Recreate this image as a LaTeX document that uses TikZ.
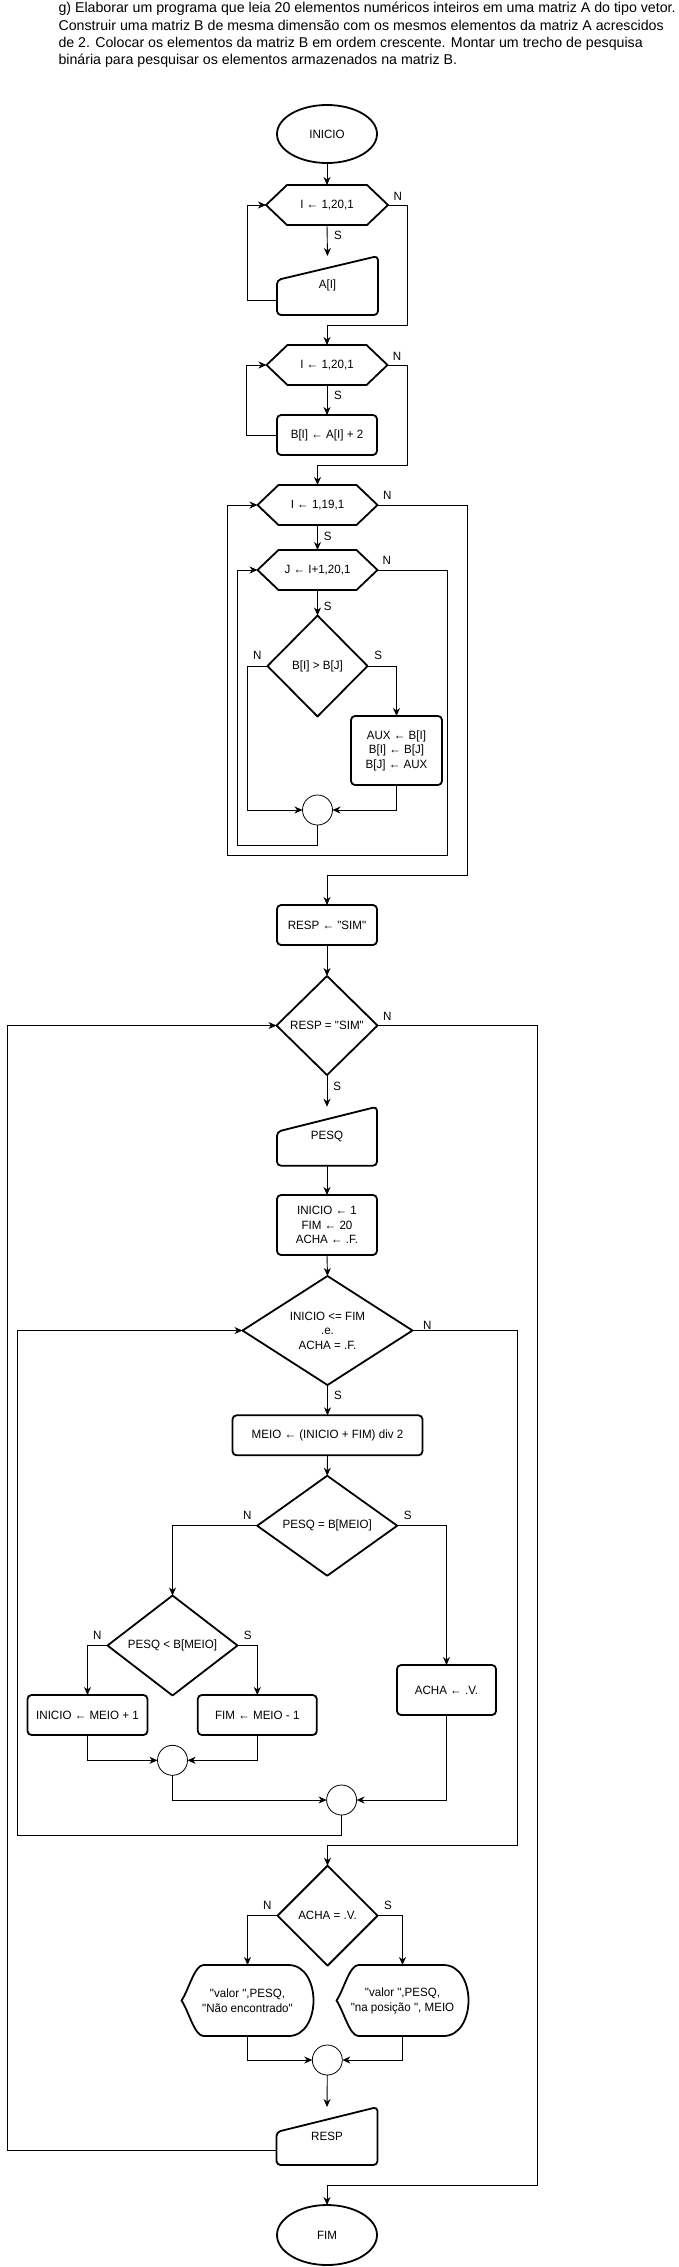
\documentclass[tikz,border=0pt]{standalone}
\usepackage{fontspec}
\setmainfont{Liberation Sans}
\newfontfamily\nfont{Liberation Sans}[FakeStretch=0.965]
\usetikzlibrary{shapes.geometric,arrows.meta}
\tikzset{
  shp/.style={line width=1.8pt, line join=round},
  tnode/.style={inner sep=0pt, outer sep=0pt, align=center, font=\nfont\fontsize{12}{14.5}\selectfont},
  box/.style={tnode, draw, shp, rounded corners=4pt},
  term/.style={tnode, ellipse, draw, shp},
  junc/.style={circle, draw, line width=0.8pt, minimum size=30pt, inner sep=0pt, outer sep=0pt},
  conn/.style={line width=0.9pt, -{Stealth[length=8pt,width=7pt,inset=2.5pt]}},
  lab/.style={font=\nfont\fontsize{12}{14}\selectfont, inner sep=0pt},
  ttl/.style={font=\fontsize{14.2}{17}\selectfont, inner sep=0pt, anchor=base west},
}
\newcommand\hexa[1]{\draw[shp] (#1.west) -- ([xshift=21pt]#1.north west) -- ([xshift=-21pt]#1.north east) -- (#1.east) -- ([xshift=-21pt]#1.south east) -- ([xshift=21pt]#1.south west) -- cycle;}
\newcommand\dia[1]{\draw[shp] (#1.west) -- (#1.north) -- (#1.east) -- (#1.south) -- cycle;}
\newcommand\manin[2]{\draw[shp, rounded corners=4pt] (#1.south west) -- ([yshift=-#2]#1.north west) -- (#1.north east) -- (#1.south east) -- cycle;}
\newcommand\disp[1]{\draw[shp] (#1.west) .. controls ([xshift=7pt,yshift=10pt]#1.west) and ([xshift=13pt]#1.north west) .. ([xshift=22pt]#1.north west) -- ([xshift=-25pt]#1.north east) to[out=0,in=90] (#1.east) to[out=-90,in=0] ([xshift=-25pt]#1.south east) -- ([xshift=22pt]#1.south west) .. controls ([xshift=13pt]#1.south west) and ([xshift=7pt,yshift=-10pt]#1.west) .. (#1.west) -- cycle;}
\begin{document}
\begin{tikzpicture}[x=1pt,y=-1pt]
\fill[white] (0,0) rectangle (678,2267);
\useasboundingbox (0,0) rectangle (678,2267);
% title
\node[ttl] (t1) at (58.3,13.0) {g) Elaborar um programa que leia 20 elementos numéricos inteiros em uma matriz A do tipo vetor.};
\node[ttl] (t2) at (58.3,30.2) {Construir uma matriz B de mesma dimensão com os mesmos elementos da matriz A acrescidos};
\node[ttl] (t3) at (58.3,47.4) {de 2. Colocar os elementos da matriz B em ordem crescente. Montar um trecho de pesquisa};
\node[ttl] (t4) at (58.3,64.6) {binária para pesquisar os elementos armazenados na matriz B.};
% nodes
\node[term, minimum width=100pt, minimum height=58pt] (ini) at (327,134) {INICIO};
\node[tnode, minimum width=122pt, minimum height=40pt] (h1) at (327,205) {I ← 1,20,1}; \hexa{h1}
\node[tnode, minimum width=101pt, minimum height=59pt] (ai) at (327.5,285.5) {A[I]}; \manin{ai}{24pt}
\node[tnode, minimum width=121pt, minimum height=40pt] (h2) at (327,365) {I ← 1,20,1}; \hexa{h2}
\node[box, minimum width=100pt, minimum height=40pt] (bi) at (327,435) {B[I] ← A[I] + 2};
\node[tnode, minimum width=120pt, minimum height=40pt] (h3) at (317.5,505) {I ← 1,19,1}; \hexa{h3}
\node[tnode, minimum width=120pt, minimum height=40pt] (h4) at (317.5,570) {J ← I+1,20,1}; \hexa{h4}
\node[tnode, minimum width=100pt, minimum height=101pt] (d1) at (317.5,666) {B[I] > B[J]}; \dia{d1}
\node[box, minimum width=91pt, minimum height=69pt] (aux) at (396.5,750.5) {AUX ← B[I]\\B[I] ← B[J]\\B[J] ← AUX};
\node[junc] (c1) at (317.5,810) {};
\node[box, minimum width=100pt, minimum height=40pt] (resp1) at (327,925) {RESP ← "SIM"};
\node[tnode, minimum width=101pt, minimum height=99pt] (d2) at (327,1025.5) {RESP = "SIM"}; \dia{d2}
\node[tnode, minimum width=100pt, minimum height=59pt] (pesq) at (327,1136.2) {PESQ}; \manin{pesq}{25pt}
\node[box, minimum width=100pt, minimum height=60pt] (init) at (327,1225) {INICIO ← 1\\FIM ← 20\\ACHA ← .F.};
\node[tnode, minimum width=170pt, minimum height=109pt] (d3) at (327.5,1330.5) {INICIO <= FIM\\.e.\\ACHA = .F.}; \dia{d3}
\node[box, minimum width=190pt, minimum height=40pt] (meio) at (327.5,1435.3) {MEIO ← (INICIO + FIM) div 2};
\node[tnode, minimum width=140pt, minimum height=100pt] (d4) at (327.2,1525.7) {PESQ = B[MEIO]}; \dia{d4}
\node[tnode, minimum width=130pt, minimum height=100pt] (d5) at (172.5,1645.5) {PESQ < B[MEIO]}; \dia{d5}
\node[box, minimum width=120pt, minimum height=40pt] (b1) at (87.5,1715) {INICIO ← MEIO + 1};
\node[box, minimum width=119pt, minimum height=40pt] (b2) at (257.3,1715) {FIM ← MEIO - 1};
\node[box, minimum width=99pt, minimum height=50pt] (acha) at (446.5,1690) {ACHA ← .V.};
\node[junc] (c2) at (172.5,1760.3) {};
\node[junc] (c3) at (341.6,1800) {};
\node[tnode, minimum width=100pt, minimum height=100pt] (d6) at (327.5,1915.7) {ACHA = .V.}; \dia{d6}
\node[tnode, minimum width=132pt, minimum height=71pt, font=\nfont\fontsize{12}{15}\selectfont] (o1) at (247.5,2000.5) {"valor ",PESQ,\\"Não encontrado"}; \disp{o1}
\node[tnode, minimum width=132pt, minimum height=71pt, font=\nfont\fontsize{12}{15}\selectfont] (o2) at (402.5,2000.5) {"valor ",PESQ,\\"na posição ", MEIO}; \disp{o2}
\node[junc] (c4) at (327.3,2060) {};
\node[tnode, minimum width=101pt, minimum height=58pt] (ro) at (327,2136) {RESP}; \manin{ro}{25pt}
\node[term, minimum width=100pt, minimum height=60pt] (fim) at (327,2235) {FIM};
% connectors
\draw[conn] (ini.south) -- (h1.north);
\draw[conn] (h1.south) -- (ai.north);
\draw[conn] ([yshift=-14.5pt]ai.west) -| (247.3,300) |- (h1.west);
\draw[conn] (h1.east) -| (407.3,325) -| (h2.north);
\draw[conn] (h2.south) -- (bi.north);
\draw[conn] (bi.west) -| (246,435) |- (h2.west);
\draw[conn] (h2.east) -| (407.7,465) -| (h3.north);
\draw[conn] (h3.south) -- (h4.north);
\draw[conn] (h4.south) -- (d1.north);
\draw[conn] (d1.west) -| (247.3,810) -- (c1.west);
\draw[conn] (d1.east) -| (aux.north);
\draw[conn] (aux.south) |- (c1.east);
\draw[conn] (c1.south) |- (237.3,845) |- (h4.west);
\draw[conn] (h4.east) -| (447.3,855) -| (227.3,505) -- (h3.west);
\draw[conn] (h3.east) -| (467.3,875) -| (resp1.north);
\draw[conn] (resp1.south) -- (d2.north);
\draw[conn] (d2.east) -| (537.7,2185) -| (fim.north);
\draw[conn] (d2.south) -- (pesq.north);
\draw[conn] (pesq.south) -- (init.north);
\draw[conn] (init.south) -- (d3.north);
\draw[conn] (d3.east) -| (517.6,1845) -| (d6.north);
\draw[conn] (d3.south) -- (meio.north);
\draw[conn] (meio.south) -- (d4.north);
\draw[conn] (d4.west) -| (d5.north);
\draw[conn] (d4.east) -| (acha.north);
\draw[conn] (d5.west) -| (b1.north);
\draw[conn] (d5.east) -| (b2.north);
\draw[conn] (b1.south) |- (c2.west);
\draw[conn] (b2.south) |- (c2.east);
\draw[conn] (c2.south) |- (c3.west);
\draw[conn] (acha.south) |- (c3.east);
\draw[conn] (c3.south) |- (17.3,1835) |- (d3.west);
\draw[conn] (d6.west) -| (o1.north);
\draw[conn] (d6.east) -| (o2.north);
\draw[conn] (o1.south) |- (c4.west);
\draw[conn] (o2.south) |- (c4.east);
\draw[conn] (c4.south) -- (ro.north);
\draw[conn] ([yshift=-14.7pt]ro.west) -| (7,1025.5) -- (d2.west);
% labels
\node[lab] (ln1) at (397.7,196.7) {N};
\node[lab] (ls1) at (338,235) {S};
\node[lab] (ln2) at (397,356) {N};
\node[lab] (ls2) at (338,395) {S};
\node[lab] (ln3) at (387.3,495) {N};
\node[lab] (ls3) at (327.7,536) {S};
\node[lab] (ln4) at (386.7,560.7) {N};
\node[lab] (ls4) at (327.7,606) {S};
\node[lab] (lnd1) at (257.3,655) {N};
\node[lab] (lsd1) at (378.3,655) {S};
\node[lab] (lnd2) at (387.3,1016) {N};
\node[lab] (lsd2) at (337.3,1086) {S};
\node[lab] (lnd3) at (427.2,1325) {N};
\node[lab] (lsd3) at (338.1,1395.7) {S};
\node[lab] (lnd4) at (247.3,1515.7) {N};
\node[lab] (lsd4) at (407.7,1515.7) {S};
\node[lab] (lnd5) at (97.3,1635) {N};
\node[lab] (lsd5) at (247.8,1635) {S};
\node[lab] (lnd6) at (267.2,1905.7) {N};
\node[lab] (lsd6) at (387.9,1905.7) {S};
\end{tikzpicture}
\end{document}
